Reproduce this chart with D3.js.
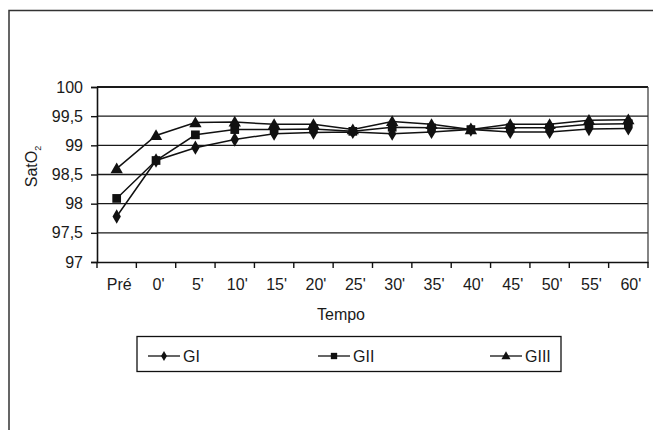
<!DOCTYPE html>
<html>
<head>
<meta charset="utf-8">
<script src="https://cdn.jsdelivr.net/npm/d3@7"></script>
<style>
  body { margin: 0; background: #fff; }
  svg { display: block; font-family: "Liberation Sans", Arial, sans-serif; }
</style>
</head>
<body>
<svg id="chart" width="653" height="430"></svg>
<script>
// categories (time points)
const tempos = ["Pré", "0'", "5'", "10'", "15'", "20'", "25'", "30'", "35'", "40'", "45'", "50'", "55'", "60'"];
// SatO2 per group
const gI   = [97.78, 98.74, 98.96, 99.10, 99.20, 99.22, 99.23, 99.20, 99.23, 99.27, 99.23, 99.23, 99.28, 99.29];
const gII  = [98.09, 98.74, 99.18, 99.27, 99.27, 99.28, 99.24, 99.31, 99.30, 99.27, 99.30, 99.30, 99.36, 99.37];
const gIII = [98.60, 99.17, 99.39, 99.40, 99.36, 99.36, 99.27, 99.41, 99.36, 99.27, 99.36, 99.36, 99.43, 99.44];
const yTicks = [97, 97.5, 98, 98.5, 99, 99.5, 100];
const seriesNames = ["GI", "GII", "GIII"];

const svg = d3.select("#chart");
const pLeft = 97, pRight = 648, pTop = 87, pBottom = 262;
const fs = 16;

// outer frame (cut by the window on the right and bottom)
svg.append("rect")
  .attr("x", 9).attr("y", 10.5)
  .attr("width", 700).attr("height", 500)
  .attr("fill", "#fff")
  .attr("stroke", "#333")
  .attr("stroke-width", 1.5);

const x = d3.scaleBand().domain(tempos).range([pLeft, pRight]).padding(0);
const y = d3.scaleLinear().domain([97, 100]).range([pBottom, pTop]);
const fmt = (d) => String(d).replace(".", ",");

// gridlines
svg.append("g")
  .selectAll("line")
  .data(yTicks.filter((d) => d > 97))
  .join("line")
  .attr("x1", pLeft).attr("x2", pRight)
  .attr("y1", (d) => y(d)).attr("y2", (d) => y(d))
  .attr("stroke", "#1a1a1a")
  .attr("stroke-width", (d) => (d == 100 ? 2 : 1.4));

// right border of plot
svg.append("line")
  .attr("x1", pRight).attr("x2", pRight)
  .attr("y1", pTop).attr("y2", pBottom)
  .attr("stroke", "#333").attr("stroke-width", 1.2);

// y axis
const yAxis = svg.append("g")
  .attr("transform", `translate(${pLeft},0)`)
  .call(d3.axisLeft(y).tickValues(yTicks).tickFormat(fmt).tickSize(6).tickPadding(8));
yAxis.select(".domain").attr("stroke", "#111").attr("stroke-width", 1.6);
yAxis.selectAll(".tick line").attr("stroke", "#111").attr("stroke-width", 1.4);
yAxis.selectAll("text").attr("font-size", fs).attr("fill", "#1a1a1a")
  .attr("font-family", "Liberation Sans, Arial, sans-serif");

// x axis: labels at category centres, ticks at boundaries
const xAxis = svg.append("g")
  .attr("transform", `translate(0,${pBottom})`)
  .call(d3.axisBottom(x).tickSize(0).tickPadding(17));
xAxis.select(".domain").attr("stroke", "#111").attr("stroke-width", 1.6);
xAxis.selectAll("text").attr("font-size", fs).attr("fill", "#1a1a1a").attr("dx", 2.5)
  .attr("font-family", "Liberation Sans, Arial, sans-serif");
svg.append("g")
  .selectAll("line")
  .data(d3.range(tempos.length + 1))
  .join("line")
  .attr("x1", (i) => pLeft + i * x.step()).attr("x2", (i) => pLeft + i * x.step())
  .attr("y1", pBottom).attr("y2", pBottom + 6)
  .attr("stroke", "#111").attr("stroke-width", 1.4);

// axis titles
svg.append("text")
  .attr("x", 341).attr("y", 319.5)
  .attr("text-anchor", "middle")
  .attr("font-size", fs).attr("fill", "#1a1a1a")
  .text("Tempo");

const yt = svg.append("text")
  .attr("transform", `translate(37,${(pTop + pBottom) / 2 - 8}) rotate(-90)`)
  .attr("text-anchor", "middle")
  .attr("font-size", fs).attr("fill", "#1a1a1a");
yt.append("tspan").text("SatO");
yt.append("tspan").attr("font-size", 9).attr("dy", 4).text("2");

// series
const symbols = [d3.symbolDiamond, d3.symbolSquare, d3.symbolTriangle];
const sizes = [60, 76, 66];
const series = [gI, gII, gIII];
const cx = (i) => x(tempos[i]) + x.bandwidth() / 2;

const line = d3.line().x((d, i) => cx(i)).y((d) => y(d));

series.forEach((s) => {
  svg.append("path")
    .datum(s)
    .attr("d", line)
    .attr("fill", "none")
    .attr("stroke", "#111")
    .attr("stroke-width", 1.5);
});
series.forEach((s, k) => {
  svg.append("g")
    .selectAll("path")
    .data(s)
    .join("path")
    .attr("d", d3.symbol().type(symbols[k]).size(sizes[k]))
    .attr("transform", (d, i) => `translate(${cx(i)},${y(d) + (k == 2 ? 1 : 0)})`)
    .attr("fill", "#111");
});

// legend
const leg = svg.append("g");
leg.append("rect")
  .attr("x", 137).attr("y", 336.5)
  .attr("width", 424).attr("height", 35)
  .attr("fill", "#fff")
  .attr("stroke", "#111").attr("stroke-width", 1.3);
const legX = [148, 318, 490];
seriesNames.forEach((name, k) => {
  const g = leg.append("g").attr("transform", `translate(${legX[k]},356)`);
  g.append("line").attr("x1", 0).attr("x2", 32).attr("y1", 0).attr("y2", 0)
    .attr("stroke", "#111").attr("stroke-width", 1.3);
  g.append("path")
    .attr("d", d3.symbol().type(symbols[k]).size([30, 40, 36][k]))
    .attr("transform", `translate(16,${k == 2 ? 0.5 : 0})`)
    .attr("fill", "#111");
  g.append("text")
    .attr("x", 35).attr("y", 6)
    .attr("font-size", fs).attr("fill", "#1a1a1a")
    .text(name);
});
</script>
</body>
</html>
